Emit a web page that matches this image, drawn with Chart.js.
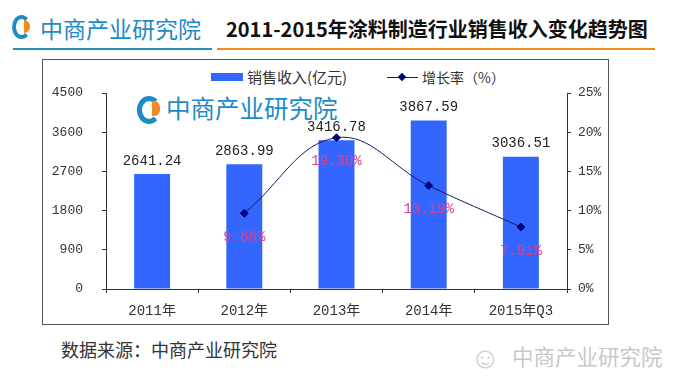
<!DOCTYPE html>
<html>
<head>
<meta charset="utf-8">
<script src="https://cdn.jsdelivr.net/npm/chart.js@4"></script>
<style>
  body { margin: 0; background: #fff; }
  #page { position: relative; width: 680px; height: 387px; overflow: hidden; font-family: "Noto Sans CJK SC", sans-serif; }
  .abs { position: absolute; white-space: nowrap; }
  .logo-icon { position: absolute; width: 14px; height: 18px; border: 5px solid #1e8ac6; border-right-color: transparent; border-radius: 50%; }
  .logo-dot { position: absolute; width: 6px; height: 13px; background: #f08a24; border-radius: 0 6px 6px 0; }
</style>
</head>
<body>
<div id="page">
  <!-- header -->
  <div class="logo-icon" style="left:12px;top:15px;width:11px;height:16px;border-width:4px;"></div>
  <div class="logo-dot" style="left:24px;top:20px;"></div>
  <div class="abs" style="left:40px;top:12px;font-size:23px;color:#1e8ac6;line-height:32px;">中商产业研究院</div>
  <div class="abs" style="left:226px;top:14px;font-size:20px;font-weight:bold;color:#111;line-height:30px;">2011-2015年涂料制造行业销售收入变化趋势图</div>
  <div class="abs" style="left:13px;top:48px;width:199px;height:2px;background:#2a8fb0;"></div>
  <div class="abs" style="left:217px;top:48px;width:438px;height:2px;background:#f08a24;"></div>

  <!-- chart frame -->
  <div class="abs" style="left:42px;top:59px;width:565px;height:264px;border:1px solid #555;"></div>

  <!-- legend -->
  <div class="abs" style="left:211px;top:73px;width:32px;height:8px;background:#3366ff;"></div>
  <div class="abs" style="left:247px;top:67px;font-size:15px;color:#333;line-height:20px;">销售收入(亿元)</div>
  <div class="abs" style="left:387px;top:77px;width:31px;height:1px;background:#1a1a5a;"></div>
  <div class="abs" style="left:399px;top:74px;width:6px;height:6px;background:#000080;transform:rotate(45deg);"></div>
  <div class="abs" style="left:422px;top:67px;font-size:14px;color:#333;line-height:20px;">增长率（%）</div>

  <!-- in-plot watermark -->
  <div class="logo-icon" style="left:137px;top:96px;width:14px;height:18px;"></div>
  <div class="logo-dot" style="left:152px;top:101px;width:8px;height:15px;"></div>
  <div class="abs" style="left:166px;top:92px;font-size:24.5px;color:#1e8ac6;line-height:32px;">中商产业研究院</div>

  <canvas id="chart" class="abs" width="565" height="264" style="left:43px;top:60px;width:565px;height:264px;"></canvas>

  <!-- footer -->
  <div class="abs" style="left:61px;top:337px;font-size:18px;color:#333;line-height:24px;">数据来源：中商产业研究院</div>
  <div class="abs" style="left:470px;top:338px;font-size:30px;color:#d0d0d0;line-height:34px;">☺</div>
  <div class="abs" style="left:512px;top:341px;font-size:21.5px;color:#c8c8c8;line-height:30px;">中商产业研究院</div>
</div>

<script>
const categories = ['2011年', '2012年', '2013年', '2014年', '2015年Q3'];
const salesRevenue = [2641.24, 2863.99, 3416.78, 3867.59, 3036.51];
const growthRate = [null, 9.66, 19.30, 13.19, 7.91];
const revenueTicks = [0, 900, 1800, 2700, 3600, 4500];
const rateTicks = [0, 5, 10, 15, 20, 25];

const monoFont = "'Liberation Mono', 'Noto Sans CJK SC', monospace";

const valueLabels = {
    id: 'valueLabels',
    afterDatasetsDraw(chart) {
        const ctx = chart.ctx;
        ctx.save();
        ctx.font = '14px ' + monoFont;
        ctx.textAlign = 'center';
        ctx.textBaseline = 'middle';
        // bar values above bars
        ctx.fillStyle = '#222';
        chart.getDatasetMeta(0).data.forEach((bar, i) => {
            ctx.fillText(salesRevenue[i].toFixed(2), bar.x, bar.y - 13);
        });
        // growth rate below points
        ctx.fillStyle = '#e0408a';
        chart.getDatasetMeta(1).data.forEach((pt, i) => {
            if (growthRate[i] === null) return;
            ctx.fillText(growthRate[i].toFixed(2) + '%', pt.x, pt.y + 24);
        });
        ctx.restore();
    }
};

const ctx = document.getElementById('chart');
new Chart(ctx, {
    type: 'bar',
    data: {
        labels: categories,
        datasets: [{
            label: '销售收入(亿元)',
            data: salesRevenue,
            backgroundColor: '#3366ff',
            categoryPercentage: 1,
            barPercentage: 0.39,
            yAxisID: 'y',
            order: 1
        }, {
            type: 'line',
            label: '增长率（%）',
            data: growthRate,
            borderColor: '#1a1a5a',
            borderWidth: 1,
            tension: 0.4,
            pointStyle: 'rectRot',
            pointRadius: 4,
            pointBackgroundColor: '#000080',
            pointBorderColor: '#000080',
            yAxisID: 'y1',
            order: 0
        }]
    },
    options: {
        responsive: false,
        animation: false,
        devicePixelRatio: 1,
        layout: { padding: { top: 33, left: 0, right: 0, bottom: 0 } },
        plugins: {
            legend: { display: false },
            tooltip: { enabled: false }
        },
        scales: {
            x: {
                grid: { drawOnChartArea: false, drawTicks: true, tickLength: 4, color: '#333' },
                border: { color: '#333' },
                ticks: { color: '#333', font: { family: monoFont, size: 14 }, padding: 10 },
                afterFit: s => { s.height = 35; }
            },
            y: {
                position: 'left',
                min: 0,
                max: 4500,
                afterBuildTicks: s => { s.ticks = revenueTicks.map(v => ({ value: v })); },
                grid: { drawOnChartArea: false, drawTicks: true, tickLength: 4, color: '#333' },
                border: { color: '#333' },
                ticks: { color: '#333', font: { family: monoFont, size: 13 }, padding: 19, callback: v => String(v) },
                afterFit: s => { s.width = 63; }
            },
            y1: {
                position: 'right',
                min: 0,
                max: 25,
                afterBuildTicks: s => { s.ticks = rateTicks.map(v => ({ value: v })); },
                grid: { drawOnChartArea: false, drawTicks: true, tickLength: 4, color: '#333' },
                border: { color: '#333' },
                ticks: { color: '#333', font: { family: monoFont, size: 13 }, padding: 7, callback: v => v + '%' },
                afterFit: s => { s.width = 41; }
            }
        }
    },
    plugins: [valueLabels]
});
</script>
</body>
</html>
